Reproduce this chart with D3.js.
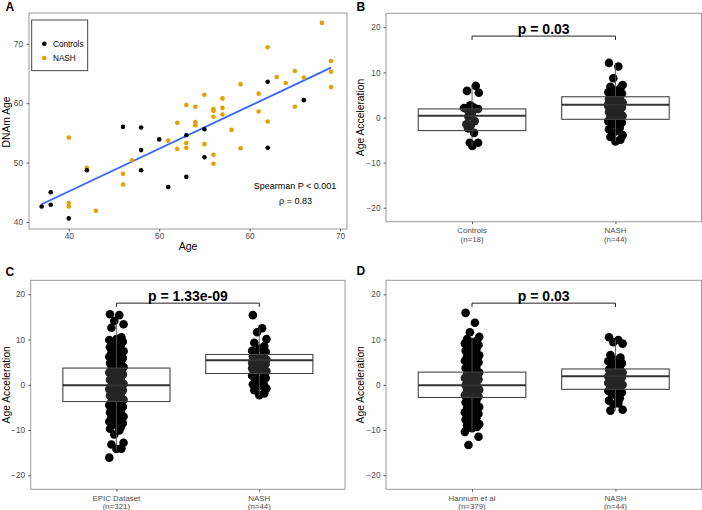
<!DOCTYPE html>
<html><head><meta charset="utf-8">
<script src="https://cdn.jsdelivr.net/npm/d3@7"></script>
<style>body{margin:0;background:#fff;} svg{display:block;font-family:"Liberation Sans",Arial,Helvetica,sans-serif;}</style>
</head><body><svg id="c" width="702" height="510"></svg>
<script>
// ---------- Panel A data ----------
const controlsAge  = [37,38,38,40,42,46,48,48,48,50,51,53,53,55,55,62,62,66];
const controlsDNAm = [42.6,45.0,42.9,40.6,48.7,56.0,55.9,52.1,48.7,53.9,45.9,54.6,47.6,55.6,50.9,63.6,52.5,60.5];
const nashAge  = [40,40,40,42,43,46,46,47,51,52,52,53,53,53,54,54,54,55,55,56,56,56,56,56,57,57,57,58,59,59,61,61,62,62,63,64,65,65,66,68,69,69,69];
const nashDNAm = [54.2,43.2,42.6,49.1,41.9,48.1,46.3,50.4,53.7,56.7,52.3,59.7,53.3,52.5,59.4,56.8,56.3,61.4,53.1,59.0,58.7,57.7,51.3,49.8,60.8,59.2,58.1,55.5,63.2,52.4,61.6,58.6,69.4,56.9,64.4,63.4,65.4,59.4,64.3,73.5,67.1,65.3,62.7];
const ageTicks = [40,50,60,70];
const dnamTicks = [40,50,60,70];
const legendLabels = ["Controls","NASH"];
const spearmanText = ["Spearman P < 0.001","\u03C1 = 0.83"];

// ---------- Box panels data ----------
const accTicks = [-20,-10,0,10,20];
// Panel B
const catsB = ["Controls","NASH"];
const nB = ["(n=18)","(n=44)"];
const bControls = [7.0,5.9,5.5,2.7,1.9,2.1,1.6,2.2,0.9,0.2,-1.5,-1.7,-0.8,-3.4,-2.4,-5.6,-5.6,-6.3];
const bControlsJitter = [0.026,-0.035,0.047,-0.012,0.042,-0.056,-0.028,0.012,0,-0.026,-0.04,-0.009,0.019,0.014,-0.028,-0.016,0.042,0.002];
const bNash = [12.1,11.3,8.7,7.2,6.8,6.5,6.0,5.6,5.3,5.0,4.7,4.4,4.1,3.9,3.6,3.3,3.1,2.9,2.7,2.5,2.2,2.0,1.8,1.5,1.2,1.0,0.7,0.4,0.1,-0.2,-0.5,-0.8,-1.1,-1.4,-1.8,-2.3,-2.6,-3.0,-3.4,-3.9,-4.3,-4.9,-5.3,3.0];
const bStats = [[-6.3,-2.9,0.4,1.9,7.0],[-5.3,-0.4,2.8,4.6,12.1]];
const bP = "p = 0.03";
// Panel C
const catsC = ["EPIC Dataset","NASH"];
const nC = ["(n=321)","(n=44)"];
const cEpic = [15.6,15.4,14.1,13.4,12.6,
 10.5,10.1,9.9,9.5,9.2,8.9,8.7,8.3,8.0,7.8,7.4,7.1,6.9,6.5,6.2,5.9,5.7,5.3,5.0,4.8,4.4,4.1,3.9,3.5,3.2,2.9,2.7,2.3,2.0,1.8,1.4,1.1,0.8,0.6,0.2,-0.1,-0.3,-0.7,-1.0,-1.2,-1.6,-1.9,-2.2,-2.4,-2.8,-3.1,-3.3,-3.7,-4.0,-4.3,-4.5,-4.9,-5.2,-5.4,-5.8,-6.1,-6.3,-6.7,-7.0,-7.2,-7.6,-7.9,-8.1,-8.5,-8.8,-9.0,-9.4,-9.7,-10.1,
 -11.0,-12.8,-13.2,-14.1,-14.2,-16.1];
const cNash = [15.4,12.5,11.6,10.1,9.3,8.5,8.0,7.5,7.3,7.0,6.7,6.5,6.2,6.0,5.8,5.6,5.4,5.2,5.0,4.8,4.6,4.4,4.2,4.0,3.8,3.5,3.3,3.0,2.8,2.5,2.2,2.0,1.5,1.0,0.6,0.3,0.1,-0.2,-0.5,-0.8,-1.2,-1.9,-2.3,3.6];
const cStats = [[-14.4,-3.7,-0.1,3.7,14.2],[-2.3,2.5,5.4,6.7,12.5]];
const cP = "p = 1.33e-09";
// Panel D
const catsD = ["Hannum et al","NASH"];
const nD = ["(n=379)","(n=44)"];
const dHannum = [15.9,13.7,11.6,10.6,
 10.1,9.8,9.4,9.1,8.8,8.5,8.1,7.8,7.5,7.2,6.9,6.5,6.2,5.9,5.6,5.3,5.0,4.6,4.3,4.0,3.7,3.4,3.1,2.7,2.4,2.1,1.8,1.5,1.2,0.8,0.5,0.2,-0.1,-0.4,-0.7,-1.1,-1.4,-1.7,-2.0,-2.3,-2.6,-3.0,-3.3,-3.6,-3.9,-4.2,-4.5,-4.9,-5.2,-5.5,-5.8,-6.1,-6.4,-6.8,-7.1,-7.4,-7.7,-8.0,-8.3,-8.7,-9.0,-9.3,-9.6,
 -10.4,-11.5,-13.3];
const dNash = [10.5,9.9,9.4,9.1,6.6,6.0,5.5,5.2,4.8,4.4,4.0,3.7,3.4,3.1,2.9,2.7,2.5,2.3,2.1,1.9,1.7,1.5,1.3,1.0,0.8,0.5,0.2,0.0,-0.3,-0.6,-0.9,-1.3,-1.7,-2.1,-2.6,-3.0,-3.5,-4.1,-4.3,-5.5,-5.7,2.0,3.0,0.4];
const dStats = [[-10.4,-2.8,-0.1,2.8,10.6],[-5.7,-1.0,1.9,3.5,9.9]];
const dP = "p = 0.03";
// hand-set jitter pattern (category units), cycled over points
const jitterCycle = [-0.045,0.02,-0.015,0.05,-0.035,0.035,0.0,-0.05,0.045,-0.025,0.01,0.03];

// ---------- drawing ----------
const svg = d3.select('#c');
const TICKCOL = '#4d4d4d', BORDER = '#9a9a9a';

function styleAxis(g){
  g.select('.domain').remove();
  g.selectAll('.tick line').attr('stroke','#333').attr('stroke-width',0.8);
  g.selectAll('.tick text').attr('fill',TICKCOL).style('font-size','8.3px');
}

// Panel A
(function(){
  const L=29,R=347,T=13,B=229;
  const x = d3.scaleLinear().domain([35.6,70.77]).range([L,R]);
  const y = d3.scaleLinear().domain([38.82,75.17]).range([B,T]);
  const g = svg.append('g');
  g.append('rect').attr('x',L).attr('y',T).attr('width',R-L).attr('height',B-T).attr('fill','#fff').attr('stroke',BORDER).attr('stroke-width',1);
  g.append('g').attr('transform',`translate(0,${B})`).call(d3.axisBottom(x).tickValues(ageTicks).tickSize(2.5).tickPadding(1.5)).call(styleAxis);
  g.append('g').attr('transform',`translate(${L},0)`).call(d3.axisLeft(y).tickValues(dnamTicks).tickSize(2.5).tickPadding(3.5)).call(styleAxis);
  // regression line (least squares on all points)
  const xs = controlsAge.concat(nashAge), ys = controlsDNAm.concat(nashDNAm);
  const mx = d3.mean(xs), my = d3.mean(ys);
  const slope = d3.sum(xs,(v,i)=>(v-mx)*(ys[i]-my))/d3.sum(xs,v=>(v-mx)*(v-mx));
  const icpt = my - slope*mx;
  const [xmin,xmax] = d3.extent(xs);
  g.append('line').attr('x1',x(xmin)).attr('y1',y(icpt+slope*xmin)).attr('x2',x(xmax)).attr('y2',y(icpt+slope*xmax))
    .attr('stroke','#3366FF').attr('stroke-width',1.8);
  g.selectAll('circle.n').data(nashAge).enter().append('circle').attr('cx',d=>x(d)).attr('cy',(d,i)=>y(nashDNAm[i])).attr('r',2.3).attr('fill','#E69F00');
  g.selectAll('circle.c').data(controlsAge).enter().append('circle').attr('cx',d=>x(d)).attr('cy',(d,i)=>y(controlsDNAm[i])).attr('r',2.3).attr('fill','#000');
  // legend
  g.append('rect').attr('x',31.7).attr('y',20).attr('width',56).attr('height',50.7).attr('fill','#fff').attr('stroke','#333').attr('stroke-width',0.9);
  const lc = ['#000','#E69F00'];
  legendLabels.forEach((t,i)=>{
    g.append('circle').attr('cx',44.3).attr('cy',43.7+i*14.3).attr('r',2.3).attr('fill',lc[i]);
    g.append('text').attr('x',53).attr('y',43.7+i*14.3).attr('dy','0.35em').style('font-size','8.2px').attr('fill','#000').text(t);
  });
  g.append('text').attr('x',295).attr('y',189).attr('text-anchor','middle').style('font-size','9px').text(spearmanText[0]);
  g.append('text').attr('x',295.5).attr('y',203.5).attr('text-anchor','middle').style('font-size','9px').text(spearmanText[1]);
  g.append('text').attr('x',(L+R)/2).attr('y',249.5).attr('text-anchor','middle').style('font-size','10.5px').text('Age');
  g.append('text').attr('transform','translate(9.5,122) rotate(-90)').attr('text-anchor','middle').style('font-size','10.3px').text('DNAm Age');
  svg.append('text').attr('x',5.5).attr('y',10.5).style('font-size','12px').style('font-weight','bold').text('A');
})();

function boxPanel(cfg){
  const {L,R,T,B,cats,ns,groups,jit,stats,p,letter,lx,ly,titleX} = cfg;
  const x = d3.scaleLinear().domain([0.4,2.6]).range([L,R]);
  const y = d3.scaleLinear().domain([-23.1,23.1]).range([B,T]);
  const g = svg.append('g');
  g.append('rect').attr('x',L).attr('y',T).attr('width',R-L).attr('height',B-T).attr('fill','#fff').attr('stroke',BORDER).attr('stroke-width',1);
  g.append('g').attr('transform',`translate(${L},0)`).call(d3.axisLeft(y).tickValues(accTicks).tickSize(2.5).tickPadding(3)).call(styleAxis);
  const xa = g.append('g').attr('transform',`translate(0,${B})`).call(d3.axisBottom(x).tickValues([1,2]).tickSize(2.5).tickFormat(()=>''));
  styleAxis(xa);
  cats.forEach((c,i)=>{
    g.append('text').attr('x',x(i+1)).attr('y',B+11.2).attr('text-anchor','middle').style('font-size','7.9px').attr('fill',TICKCOL).text(c);
    g.append('text').attr('x',x(i+1)).attr('y',B+19.9).attr('text-anchor','middle').style('font-size','7.9px').attr('fill',TICKCOL).text(ns[i]);
  });
  // points
  groups.forEach((vals,gi)=>{
    g.append('g').selectAll('circle').data(vals).enter().append('circle')
      .attr('cx',(d,i)=>x(gi+1+(jit[gi]?jit[gi][i]:jitterCycle[i%jitterCycle.length])))
      .attr('cy',d=>y(d)).attr('r',4.3).attr('fill','#000');
  });
  // boxes over points
  stats.forEach((s,gi)=>{
    const cx = x(gi+1), hw = (x(1.375)-x(1));
    g.append('line').attr('x1',cx).attr('x2',cx).attr('y1',y(s[3])).attr('y2',y(s[4])).attr('stroke','#555').attr('stroke-width',0.9);
    g.append('line').attr('x1',cx).attr('x2',cx).attr('y1',y(s[1])).attr('y2',y(s[0])).attr('stroke','#555').attr('stroke-width',0.9);
    g.append('rect').attr('x',cx-hw).attr('width',2*hw).attr('y',y(s[3])).attr('height',y(s[1])-y(s[3]))
      .attr('fill','#fff').attr('fill-opacity',0.14).attr('stroke','#444').attr('stroke-width',1.1);
    g.append('line').attr('x1',cx-hw).attr('x2',cx+hw).attr('y1',y(s[2])).attr('y2',y(s[2])).attr('stroke','#333').attr('stroke-width',2);
  });
  // bracket
  const by = y(18.05), bt = y(17.2);
  g.append('path').attr('d',`M${x(1)},${bt}V${by}H${x(2)}V${bt}`).attr('fill','none').attr('stroke','#222').attr('stroke-width',1);
  g.append('text').attr('x',(x(1)+x(2))/2).attr('y',by-2.3).attr('text-anchor','middle').style('font-size','14px').style('font-weight','bold').text(p);
  g.append('text').attr('transform',`translate(${titleX},${(T+B)/2}) rotate(-90)`).attr('text-anchor','middle').style('font-size','10.3px').text('Age Acceleration');
  svg.append('text').attr('x',lx).attr('y',ly).style('font-size','12px').style('font-weight','bold').text(letter);
}

boxPanel({L:386,R:701.5,T:13.3,B:221.7,cats:catsB,ns:nB,groups:[bControls,bNash],jit:[bControlsJitter,null],stats:bStats,p:bP,letter:'B',lx:356.5,ly:11,titleX:364});
boxPanel({L:30.7,R:345,T:280.3,B:489.3,cats:catsC,ns:nC,groups:[cEpic,cNash],jit:[null,null],stats:cStats,p:cP,letter:'C',lx:5.5,ly:275.5,titleX:9.8});
boxPanel({L:386,R:701.5,T:280.3,B:489.3,cats:catsD,ns:nD,groups:[dHannum,dNash],jit:[null,null],stats:dStats,p:dP,letter:'D',lx:356.5,ly:275,titleX:364});
</script></body></html>
